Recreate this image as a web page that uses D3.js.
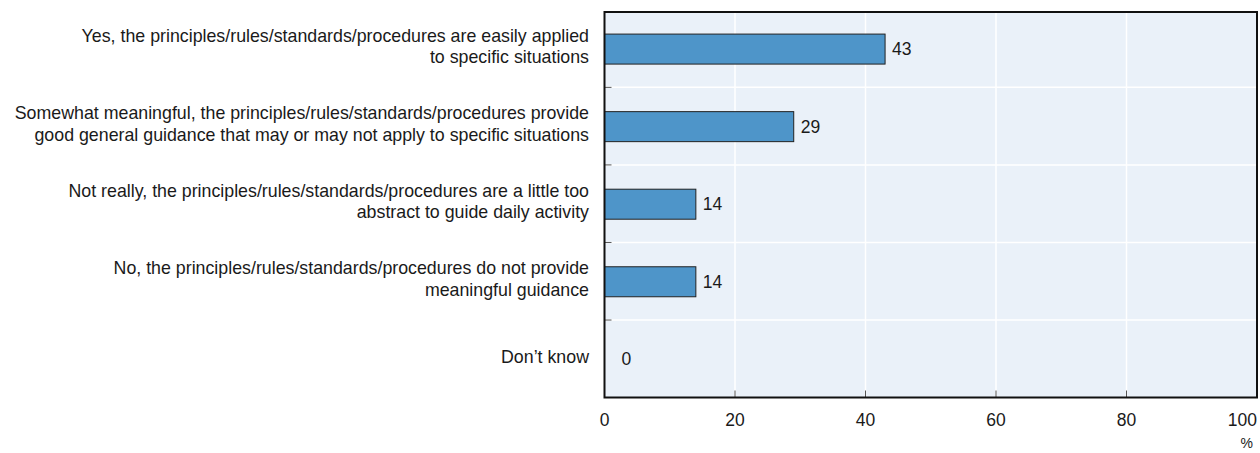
<!DOCTYPE html>
<html><head><meta charset="utf-8">
<script src="https://cdn.jsdelivr.net/npm/d3@7/dist/d3.min.js"></script>
<style>
body{margin:0;background:#fff;}
text{font-family:"Liberation Sans Narrow","Arial Narrow","Liberation Sans",sans-serif;fill:#1a1a1a;}
</style></head>
<body><svg id="c" width="1260" height="453"></svg>
<script>
const categories = [
  ["Yes, the principles/rules/standards/procedures are easily applied", "to specific situations"],
  ["Somewhat meaningful, the principles/rules/standards/procedures provide", "good general guidance that may or may not apply to specific situations"],
  ["Not really, the principles/rules/standards/procedures are a little too", "abstract to guide daily activity"],
  ["No, the principles/rules/standards/procedures do not provide", "meaningful guidance"],
  ["Don\u2019t know"]
];
const values = [43, 29, 14, 14, 0];
const xTicks = [0, 20, 40, 60, 80, 100];
const unitLabel = "%";

const svg = d3.select("#c");
const L = 604.5, R = 1257, T = 12, B = 397.5;
const x = d3.scaleLinear().domain([0, 100]).range([L, R]);
const y = d3.scaleBand().domain(d3.range(categories.length)).range([9.8, 397.6]).padding(0);

svg.append("rect").attr("x", L).attr("y", T).attr("width", R - L).attr("height", B - T).attr("fill", "#eaf1f9");

svg.selectAll(".vg").data(xTicks.slice(1, -1)).enter().append("line")
  .attr("x1", d => x(d)).attr("x2", d => x(d)).attr("y1", T).attr("y2", B)
  .attr("stroke", "#fff").attr("stroke-width", 1.5);
const bounds = d3.range(1, categories.length).map(i => y(i));
svg.selectAll(".hg").data(bounds).enter().append("line")
  .attr("x1", L).attr("x2", R).attr("y1", d => d).attr("y2", d => d)
  .attr("stroke", "#fff").attr("stroke-width", 1.5);
svg.selectAll(".tk").data(bounds).enter().append("line")
  .attr("x1", L).attr("x2", L + 7).attr("y1", d => d).attr("y2", d => d)
  .attr("stroke", "#555").attr("stroke-width", 1);
svg.selectAll(".bt").data(xTicks.slice(1, -1)).enter().append("line")
  .attr("x1", d => x(d)).attr("x2", d => x(d)).attr("y1", B - 7).attr("y2", B)
  .attr("stroke", "#555").attr("stroke-width", 1);

const barH = 30;
svg.selectAll(".bar").data(values).enter().append("rect")
  .attr("x", x(0)).attr("y", (d, i) => y(i) + y.bandwidth() / 2 - barH / 2 + 0.5)
  .attr("width", d => x(d) - x(0)).attr("height", barH)
  .attr("fill", "#4e95c9").attr("stroke", "#222").attr("stroke-width", 1)
  .style("display", d => d > 0 ? null : "none");

svg.selectAll(".vl").data(values).enter().append("text")
  .attr("x", d => d > 0 ? x(d) + 7 : x(0) + 17)
  .attr("y", (d, i) => y(i) + y.bandwidth() / 2 + 0.5)
  .attr("dy", "0.35em").attr("font-size", 17.5).text(d => d);

svg.append("rect").attr("x", L).attr("y", T).attr("width", R - L).attr("height", B - T)
  .attr("fill", "none").attr("stroke", "#111").attr("stroke-width", 2);

const lh = 21.6;
categories.forEach((lines, i) => {
  const cy = y(i) + y.bandwidth() / 2 - 2.5;
  const t = svg.append("text").attr("text-anchor", "end").attr("font-size", 17.8);
  lines.forEach((ln, j) => {
    t.append("tspan").attr("x", 589)
      .attr("y", cy + (j - (lines.length - 1) / 2) * lh)
      .attr("dy", "0.35em").text(ln);
  });
});

svg.selectAll(".xl").data(xTicks).enter().append("text")
  .attr("x", d => x(d)).attr("y", 420).attr("dy", "0.35em")
  .attr("text-anchor", (d, i) => i === xTicks.length - 1 ? "end" : "middle")
  .attr("font-size", 17.5).text(d => d);
svg.append("text").attr("x", 1253).attr("y", 443).attr("dy", "0.35em").attr("text-anchor", "end")
  .attr("font-size", 14).text(unitLabel);
</script></body></html>
